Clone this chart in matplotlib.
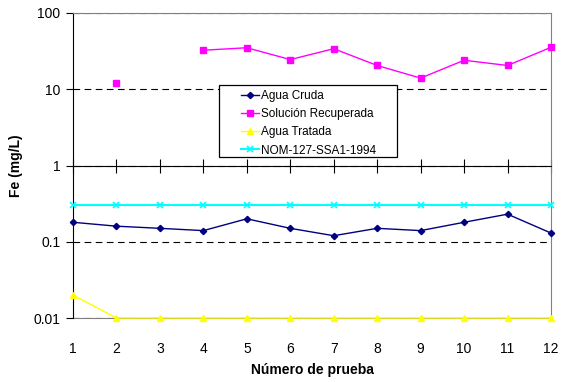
import matplotlib
matplotlib.use("Agg")
import matplotlib.pyplot as plt
from matplotlib.patches import Rectangle
import numpy as np

plt.rcParams['font.family'] = ['Liberation Sans', 'DejaVu Sans']

pruebas = list(range(1, 13))
agua_cruda = [0.18, 0.16, 0.15, 0.14, 0.20, 0.15, 0.12, 0.15, 0.14, 0.18, 0.23, 0.13]
solucion_recuperada = [np.nan, 12, np.nan, 32.5, 35, 24.5, 34, 20.5, 14, 24, 20.5, 35.5]
agua_tratada = [0.02, 0.01, 0.01, 0.01, 0.01, 0.01, 0.01, 0.01, 0.01, 0.01, 0.01, 0.01]
nom_limite = [0.3] * 12
y_ticks = [0.01, 0.1, 1, 10, 100]
y_ticklabels = ['0.01', '0.1', '1', '10', '100']

fig = plt.figure(figsize=(5.61, 3.82), dpi=100)
ax = fig.add_axes([73 / 561, 64 / 382, 478 / 561, 305 / 382])
ax.set_yscale('log')
ax.set_ylim(0.01, 100)
ax.set_xlim(1, 12)

# dashed decade gridlines
for v in y_ticks:
    ax.axhline(v, color='black', lw=0.8, ls=(0, (6, 4)), zorder=1)

ax.plot(pruebas, agua_cruda, color='#000080', marker='D', ms=3.2, lw=1.0,
        label='Agua Cruda', zorder=4, clip_on=False)
sr = np.array(solucion_recuperada, dtype=float)
ax.plot(pruebas, sr, color='#FF00FF', marker='s', ms=4.5, lw=1.0,
        label='Solución Recuperada', zorder=4, clip_on=False)
ax.plot(pruebas, agua_tratada, color='#FFFF00', marker='^', ms=4.5, lw=1.0,
        label='Agua Tratada', zorder=4, clip_on=False)
ax.plot(pruebas, nom_limite, color='#00FFFF', marker='x', ms=4, mew=1.2, lw=1.5,
        label='NOM-127-SSA1-1994', zorder=3, clip_on=False)

# axes frame: left black, top/right gray, x axis crossing at 1
ax.spines['left'].set_color('black')
ax.spines['top'].set_color('#808080')
ax.spines['right'].set_color('#808080')
ax.spines['bottom'].set_position(('data', 1))
ax.spines['bottom'].set_color('black')
ax.spines['bottom'].set_zorder(5)
ax.set_xticks(pruebas)
ax.tick_params(axis='x', direction='inout', length=10, width=0.8,
               labelbottom=False, color='black')

ax.set_yticks(y_ticks)
ax.set_yticklabels(y_ticklabels)
ax.yaxis.set_minor_locator(matplotlib.ticker.NullLocator())
ax.tick_params(axis='y', direction='out', length=5, width=0.8, labelsize=10, pad=4)

sec = ax.secondary_xaxis(0)
sec.set_xticks(pruebas)
sec.set_xticklabels([str(p) for p in pruebas])
sec.tick_params(length=0, labelsize=10, pad=17)
sec.spines['bottom'].set_color('#808080')

sec.set_xlabel('Número de prueba', fontsize=10, fontweight='bold', labelpad=5)
ax.set_ylabel('Fe (mg/L)', fontsize=10, fontweight='bold', labelpad=8)

# legend box with generous left padding
box = Rectangle((0.3054, 0.528), 0.6778 - 0.3054, 0.764 - 0.528,
                transform=ax.transAxes, facecolor='white', edgecolor='black',
                lw=0.9, zorder=5.5)
ax.add_patch(box)
leg = ax.legend(loc='upper left', bbox_to_anchor=(0.352, 0.747), fontsize=8.5,
                frameon=False, borderaxespad=0, borderpad=0, handlelength=1.5,
                handletextpad=0.2, labelspacing=0.52)
leg.set_zorder(6)

fig.savefig('out.png', dpi=100)
